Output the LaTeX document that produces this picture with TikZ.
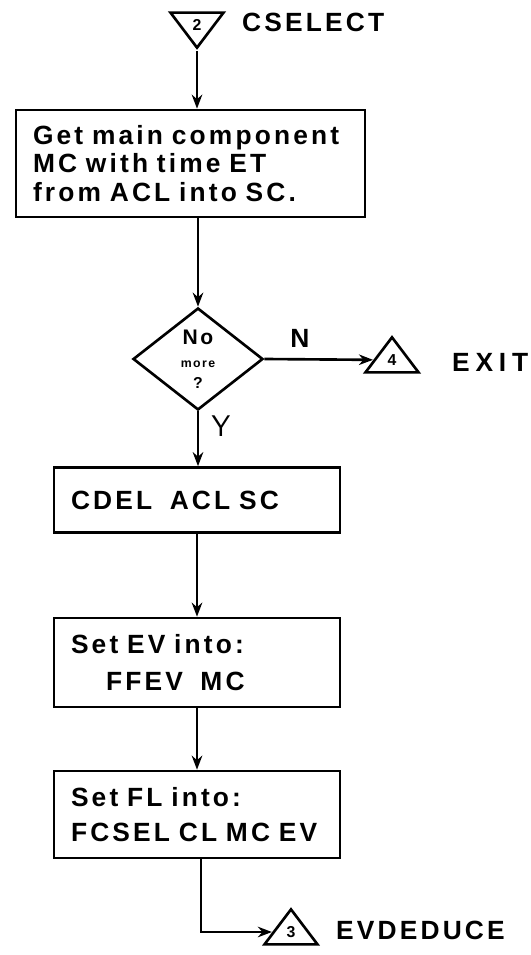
\documentclass[tikz,border=0pt]{standalone}
\usepackage{fontspec}
\setmainfont{Liberation Sans}
\newfontfamily\handfont[LetterSpace=12]{Liberation Sans}
\usetikzlibrary{arrows.meta, positioning, shapes.geometric}

\begin{document}
\begin{tikzpicture}[x=0.02cm, y=-0.02cm,
    box/.style={rectangle, draw, line width=1.5pt, inner xsep=0.34cm, inner ysep=0pt, align=left, font=\handfont\bfseries\fontsize{15}{17}\selectfont},
    decision/.style={diamond, draw, line width=1.5pt, minimum width=2.6cm, minimum height=2.04cm, inner sep=0pt, align=center, font=\handfont\bfseries},
    offpage/.style={isosceles triangle, isosceles triangle stretches, draw, line width=1.5pt, inner sep=0pt, minimum width=1.06cm, minimum height=0.7cm, font=\handfont\fontsize{9}{9}\selectfont\bfseries},
    note/.style={font=\handfont\bfseries\fontsize{15}{15}\selectfont},
    arrow/.style={-{Stealth[length=8pt, width=6pt]}, line width=1.5pt}
]
\useasboundingbox (0,0) rectangle (530,955);

\node[offpage, shape border rotate=-90] (entry) at (197,25) {2};
\node[note, anchor=west] (cselect) at (236,22) {CSELECT};

\node[box, text width=6.3cm, minimum width=6.98cm, minimum height=2.14cm] (getmc) at (190.5,163.5)
    {Get main component\\[-1pt] MC with time ET\\[-1pt] from ACL into SC.};

\node[decision] (nomore) at (198,359)
    {\fontsize{12}{12}\selectfont No\\[1pt] \fontsize{7}{7}\selectfont more\\[0pt] \fontsize{9}{9}\selectfont ?};
\node[note] (nlabel) at (300,338) {N};
\node[note, font=\sffamily\fontsize{17}{17}\selectfont] (ylabel) at (221,426) {Y};

\node[offpage, shape border rotate=90] (exitpt) at (392,360) {4};
\node[note, anchor=west, font=\handfont\bfseries\addfontfeature{LetterSpace=22}\fontsize{15}{15}\selectfont] (exit) at (446,362) {EXIT};

\node[box, text width=5.04cm, minimum width=5.72cm, minimum height=1.3cm] (cdel) at (197,500)
    {CDEL\ \ ACL SC};
\node[box, text width=5.04cm, minimum width=5.72cm, minimum height=1.78cm] (setev) at (197,662.5)
    {Set EV into:\\[4pt] \hspace*{0.7cm}FFEV\ \ MC};
\node[box, text width=5.04cm, minimum width=5.72cm, minimum height=1.74cm] (setfl) at (197,814.5)
    {Set FL into:\\[3pt] FCSEL CL MC EV};

\node[offpage, shape border rotate=90] (deduce) at (291,932) {3};
\node[note, anchor=west] (evdeduce) at (330,930) {EVDEDUCE};

\draw[arrow] (entry.apex) -- (entry.apex |- getmc.north);
\draw[arrow] (getmc.south -| nomore.north) -- (nomore.north);
\draw[arrow] (nomore.east) -- (exitpt);
\draw[arrow] (nomore.south) -- (cdel.north -| nomore.south);
\draw[arrow] (cdel) -- (setev);
\draw[arrow] (setev) -- (setfl);
\draw[arrow] ([xshift=0.08cm]setfl.south) |- (deduce);

\end{tikzpicture}
\end{document}
